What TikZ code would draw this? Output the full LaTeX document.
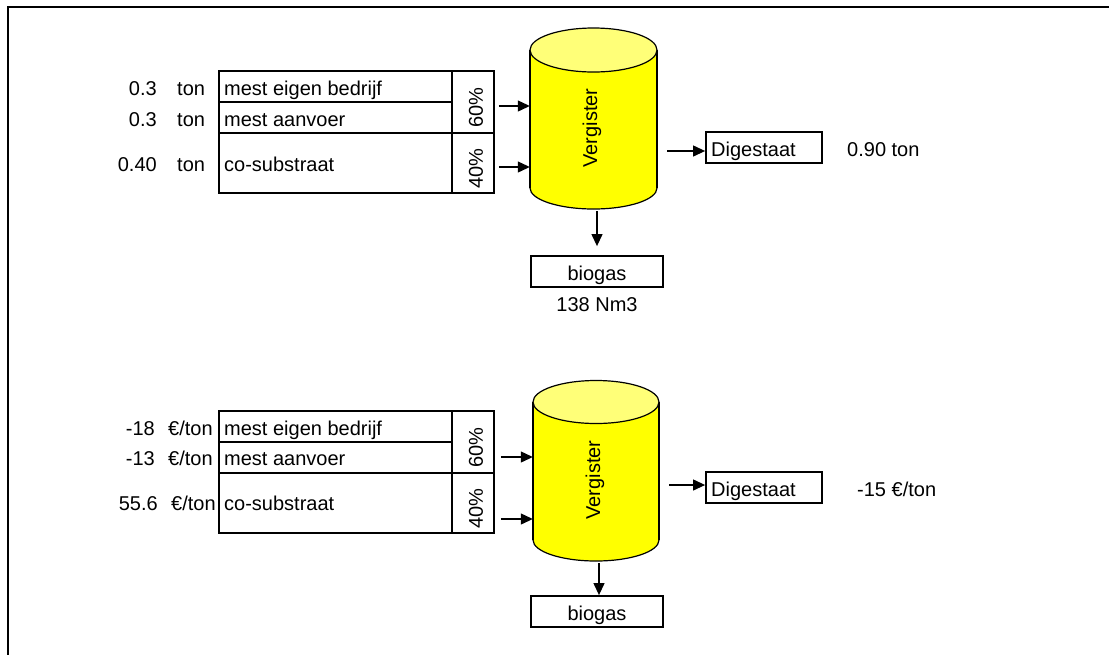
\documentclass[tikz,border=0pt]{standalone}
\usepackage{fontspec}
\setmainfont{Liberation Sans}
\usetikzlibrary{arrows.meta}
\definecolor{cylbody}{RGB}{255,255,0}
\definecolor{cyltop}{RGB}{255,255,120}
\tikzset{
  txt/.style={inner sep=0pt, font=\fontsize{20}{24}\selectfont},
  cell/.style={draw, line width=1.5pt, inner sep=0pt},
  outbox/.style={draw, line width=1.8pt, inner sep=0pt},
  arr/.style={line width=1.2pt, -{Triangle[length=12pt,width=11pt]}},
  cylline/.style={line width=1.2pt}
}
\begin{document}
\begin{tikzpicture}[x=1pt,y=-1pt]
\useasboundingbox (0,0) rectangle (1109,654);
% frame
\draw[line width=2pt] (8,670) -- (8,7) -- (1120,7);

% ===================== TOP =====================
% table cells
\node[cell, minimum width=233pt, minimum height=31pt] (r1a) at (335.5,86.5) {};
\node[cell, minimum width=233pt, minimum height=31pt] (r2a) at (335.5,117.5) {};
\node[cell, minimum width=233pt, minimum height=60pt] (r3a) at (335.5,163) {};
\node[cell, minimum width=42pt, minimum height=62pt] (p60a) at (473,102) {};
\node[cell, minimum width=42pt, minimum height=60pt] (p40a) at (473,163) {};
% cell texts
\node[txt, anchor=base west] (t1a) at (224,95) {mest eigen bedrijf};
\node[txt, anchor=base west] (t2a) at (224,126) {mest aanvoer};
\node[txt, anchor=base west] (t3a) at (224,171.5) {co-substraat};
\node[txt, rotate=90] (q60a) at (476,107.5) {60\%};
\node[txt, rotate=90] (q40a) at (476,168.5) {40\%};
% amounts
\node[txt, anchor=base east] (v1a) at (157,95) {0.3};
\node[txt, anchor=base west] (u1a) at (177,95) {ton};
\node[txt, anchor=base east] (v2a) at (157,126) {0.3};
\node[txt, anchor=base west] (u2a) at (177,126) {ton};
\node[txt, anchor=base east] (v3a) at (157,171.5) {0.40};
\node[txt, anchor=base west] (u3a) at (177,171.5) {ton};
% cylinder
\fill[cylbody] (530,50) rectangle (657,188);
\fill[cylbody] (593.5,188) ellipse [x radius=63.5, y radius=21];
\begin{scope}
  \clip (520,188) rectangle (670,220);
  \draw[cylline] (593.5,188) ellipse [x radius=63.5, y radius=21];
\end{scope}
\draw[cylline] (530,50) -- (530,188);
\draw[cylline] (657,50) -- (657,188);
\draw[cylline, fill=cyltop] (593.5,50) ellipse [x radius=63.5, y radius=22];
\node[inner sep=0pt, minimum width=127pt, minimum height=159pt] (cyl1) at (593.5,129.5) {};
\node[txt, rotate=90] (vg1) at (592,128) {Vergister};
% input arrows
\draw[arr] ([xshift=4pt,yshift=-4pt]p60a.east) -- ([yshift=-4pt]p60a.east -| cyl1.west);
\draw[arr] ([xshift=4pt,yshift=-4pt]p40a.east) -- ([yshift=-4pt]p40a.east -| cyl1.west);
% outputs
\node[outbox, minimum width=116pt, minimum height=31pt] (dig1) at (764,147.5) {};
\node[txt, anchor=base west] (dt1) at (711,156.7) {Digestaat};
\node[txt, anchor=base west] (dv1) at (847,156.7) {0.90 ton};
\draw[arr] ([xshift=10pt,yshift=-3.5pt]cyl1.east |- dig1.west) -- ([yshift=-3.5pt]dig1.west);
\node[outbox, minimum width=132pt, minimum height=31pt] (bio1) at (597,271.5) {};
\node[txt, anchor=base] (bt1) at (597,280.7) {biogas};
\node[txt, anchor=base] (bv1) at (597,311.7) {138 Nm3};
\draw[arr] ([yshift=-2pt]bio1.north |- cyl1.south) -- ([yshift=9pt]bio1.north);

% ===================== BOTTOM =====================
\node[cell, minimum width=233pt, minimum height=31pt] (r1b) at (335.5,426.5) {};
\node[cell, minimum width=233pt, minimum height=31pt] (r2b) at (335.5,457.5) {};
\node[cell, minimum width=233pt, minimum height=60pt] (r3b) at (335.5,503) {};
\node[cell, minimum width=42pt, minimum height=62pt] (p60b) at (473,442) {};
\node[cell, minimum width=42pt, minimum height=60pt] (p40b) at (473,503) {};
\node[txt, anchor=base west] (t1b) at (224,435) {mest eigen bedrijf};
\node[txt, anchor=base west] (t2b) at (224,465) {mest aanvoer};
\node[txt, anchor=base west] (t3b) at (224,510.7) {co-substraat};
\node[txt, rotate=90] (q60b) at (476,447.5) {60\%};
\node[txt, rotate=90] (q40b) at (476,508.7) {40\%};
\node[txt, anchor=base east] (v1b) at (155,435) {-18};
\node[txt, anchor=base west] (u1b) at (168,435) {€/ton};
\node[txt, anchor=base east] (v2b) at (155,465) {-13};
\node[txt, anchor=base west] (u2b) at (168,465) {€/ton};
\node[txt, anchor=base east] (v3b) at (158,510.7) {55.6};
\node[txt, anchor=base west] (u3b) at (171,510.7) {€/ton};
% cylinder
\fill[cylbody] (533,402) rectangle (659,540);
\fill[cylbody] (596,540) ellipse [x radius=63, y radius=21];
\begin{scope}
  \clip (520,540) rectangle (670,575);
  \draw[cylline] (596,540) ellipse [x radius=63, y radius=21];
\end{scope}
\draw[cylline] (533,402) -- (533,540);
\draw[cylline] (659,402) -- (659,540);
\draw[cylline, fill=cyltop] (596,402) ellipse [x radius=63, y radius=21.5];
\node[inner sep=0pt, minimum width=126pt, minimum height=159pt] (cyl2) at (596,481.5) {};
\node[txt, rotate=90] (vg2) at (595,480) {Vergister};
\draw[arr] ([xshift=6pt,yshift=-15pt]p60b.east) -- ([yshift=-15pt]p60b.east -| cyl2.west);
\draw[arr] ([xshift=6pt,yshift=-16pt]p40b.east) -- ([yshift=-16pt]p40b.east -| cyl2.west);
\node[outbox, minimum width=116pt, minimum height=31pt] (dig2) at (764,487.5) {};
\node[txt, anchor=base west] (dt2) at (711,496.7) {Digestaat};
\node[txt, anchor=base west] (dv2) at (857,496.7) {-15 €/ton};
\draw[arr] ([xshift=10pt,yshift=2.5pt]cyl2.east |- dig2.west) -- ([yshift=2.5pt]dig2.west);
\node[outbox, minimum width=132pt, minimum height=31pt] (bio2) at (597,611.5) {};
\node[txt, anchor=base] (bt2) at (597,620.7) {biogas};
\draw[arr] ([xshift=2pt,yshift=-2pt]bio2.north |- cyl2.south) -- ([xshift=2pt]bio2.north);
\end{tikzpicture}
\end{document}
